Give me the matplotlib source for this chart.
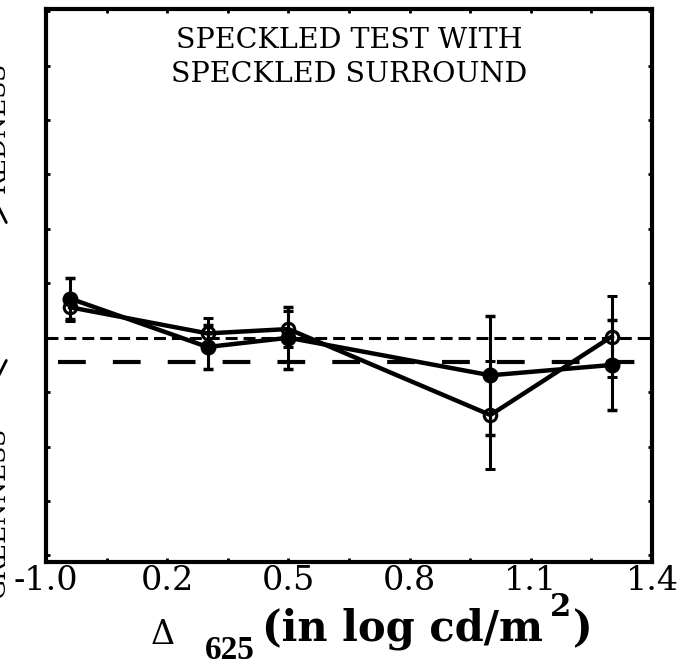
import numpy as np
import matplotlib.pyplot as plt

plt.rcParams['font.family'] = ['DejaVu Serif']
plt.rcParams['lines.scale_dashes'] = False

# test luminance offsets (log cd/m^2)
x_vals = [-0.04, 0.30, 0.50, 1.00, 1.30]

# open symbols
open_y = [0.56, 0.08, 0.16, -1.42, 0.02]
open_err = [0.25, 0.28, 0.33, 0.99, 0.74]

# filled symbols
filled_y = [0.72, -0.17, 0.00, -0.69, -0.50]
filled_err = [0.38, 0.40, 0.57, 1.09, 0.82]

zero_level = 0.0
criterion_level = -0.45

tick_vals = [-0.1, 0.2, 0.5, 0.8, 1.1, 1.4]
tick_labels = ['-1.0', '0.2', '0.5', '0.8', '1.1', '1.4']

W, H = 695, 666
fig = plt.figure(figsize=(W / 100, H / 100), dpi=100)
ax = fig.add_axes([46 / W, 1 - 562 / H, 606 / W, 553 / H])

ax.axhline(zero_level, color='black', lw=2.2, dashes=(8.6, 4.3), zorder=1)
ax.plot([-0.07, 1.4], [criterion_level] * 2, color='black', lw=3.0,
        dashes=(20, 19.5), zorder=1)

ax.errorbar(x_vals, open_y, yerr=open_err, color='black', lw=3.2,
            marker='o', ms=9, mfc='none', mew=2.2, ecolor='black',
            elinewidth=2.2, capsize=3.3, capthick=2.5, zorder=3)
ax.errorbar(x_vals, filled_y, yerr=filled_err, color='black', lw=3.2,
            marker='o', ms=10.5, mfc='black', ecolor='black',
            elinewidth=2.2, capsize=3.3, capthick=2.5, zorder=3)

ax.set_xlim(-0.1, 1.4)
ax.set_ylim(-4.12, 6.04)
ax.set_xticks(tick_vals)
ax.set_xticklabels(tick_labels)
ax.set_xticks(np.arange(-0.1, 1.41, 0.15), minor=True)
ax.set_yticks(np.arange(-4, 7, 1))
ax.set_yticklabels([])
ax.tick_params(which='both', direction='in', top=True, right=True,
               length=3, width=2, labelsize=24, pad=2)
for s in ax.spines.values():
    s.set_linewidth(3)

# title lines, baselines in pixels from the top
for line, base in [('SPECKLED TEST WITH', 48), ('SPECKLED SURROUND', 82)]:
    fig.text(349 / W, 1 - base / H, line, ha='center', va='baseline',
             fontsize=20.5)

# x label built piece by piece
fig.text(163 / W, 1 - 644 / H, '\u0394', ha='center', va='baseline',
         fontsize=24)
fig.text(205 / W, 1 - 659 / H, '625', ha='left', va='baseline',
         fontsize=24, fontweight='bold', family='Liberation Serif')
main = fig.text(262 / W, 1 - 641 / H, '(in log cd/m', ha='left',
                va='baseline', fontsize=30, fontweight='bold')
r = fig.canvas.get_renderer()
x_end = main.get_window_extent(r).x1
sup = fig.text((x_end + 7) / W, 1 - 616 / H, '2', ha='left', va='baseline',
               fontsize=22, fontweight='bold')
x_end = sup.get_window_extent(r).x1
fig.text((x_end + 2) / W, 1 - 641 / H, ')', ha='left', va='baseline',
         fontsize=30, fontweight='bold')

# axis label, mostly off the left edge
fig.text(10 / W, 1 - 127 / H, 'REDNESS', rotation=90, ha='right',
         va='center', fontsize=18)
fig.text(10 / W, 1 - 512 / H, 'GREENNESS', rotation=90, ha='right',
         va='center', fontsize=18)
ax.annotate('', xy=(-2 / W, 1 - 200 / H), xytext=(-2 / W, 1 - 383 / H),
            xycoords='figure fraction', textcoords='figure fraction',
            arrowprops=dict(arrowstyle='<->', lw=2, mutation_scale=30,
                            color='black'), annotation_clip=False)

fig.savefig('out.png', dpi=100)
